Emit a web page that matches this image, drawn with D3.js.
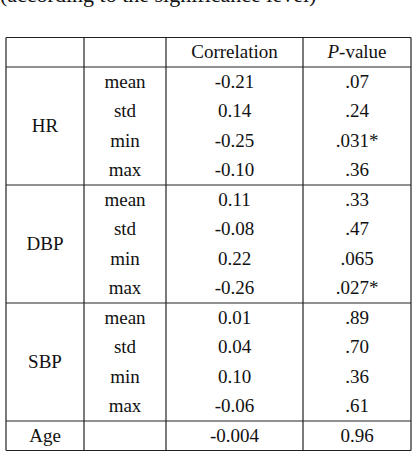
<!DOCTYPE html>
<html>
<head>
<meta charset="utf-8">
<script src="https://cdn.jsdelivr.net/npm/d3@7"></script>
<style>
  body { margin: 0; background: #fff; }
  text { font-family: "Liberation Serif", "DejaVu Serif", serif; font-size: 19px; fill: #111; }
</style>
</head>
<body>
<svg id="tbl" width="412" height="452"></svg>
<script>
var groups = ['HR', 'DBP', 'SBP'];
var stats = ['mean', 'std', 'min', 'max'];
var corr = [
  ['-0.21', '0.14', '-0.25', '-0.10'],
  ['0.11', '-0.08', '0.22', '-0.26'],
  ['0.01', '0.04', '0.10', '-0.06']
];
var pvals = [
  ['.07', '.24', '.031*', '.36'],
  ['.33', '.47', '.065', '.027*'],
  ['.89', '.70', '.36', '.61']
];
var ageRow = ['Age', '', '-0.004', '0.96'];

var svg = d3.select('#tbl');
var cols = [6, 84, 166, 303, 411];
var tableTop = 37.5, headH = 29.5, rowH = 29.5;
var line = function(x1, y1, x2, y2) {
  svg.append('line').attr('x1', x1).attr('y1', y1).attr('x2', x2).attr('y2', y2)
    .attr('stroke', '#222').attr('stroke-width', 1.2);
};
var mid = function(i) { return (cols[i] + cols[i + 1]) / 2; };

// caption line above the table, cut off by the top edge
svg.append('text').attr('x', 0).attr('y', 2).style('font-size', '22px')
  .text('(according to the significance level)');

var y = tableTop;
line(cols[0], y, cols[4], y);
svg.append('text').attr('x', mid(2)).attr('y', y + headH / 2 + 6).attr('text-anchor', 'middle').text('Correlation');
var ph = svg.append('text').attr('x', mid(3)).attr('y', y + headH / 2 + 6).attr('text-anchor', 'middle');
ph.append('tspan').style('font-style', 'italic').text('P');
ph.append('tspan').text('-value');
y += headH;
line(cols[0], y, cols[4], y);

groups.forEach(function(g, gi) {
  var y0 = y;
  svg.append('text').attr('x', mid(0)).attr('y', y0 + rowH * 2 + 6).attr('text-anchor', 'middle').text(g);
  stats.forEach(function(s, si) {
    var cy = y0 + rowH * si + rowH / 2 + 6;
    svg.append('text').attr('x', mid(1)).attr('y', cy).attr('text-anchor', 'middle').text(s);
    svg.append('text').attr('x', mid(2)).attr('y', cy).attr('text-anchor', 'middle').text(corr[gi][si]);
    svg.append('text').attr('x', mid(3)).attr('y', cy).attr('text-anchor', 'middle').text(pvals[gi][si]);
  });
  y += rowH * 4;
  line(cols[0], y, cols[4], y);
});

ageRow.forEach(function(t, i) {
  svg.append('text').attr('x', mid(i)).attr('y', y + rowH / 2 + 6).attr('text-anchor', 'middle').text(t);
});
y += rowH;
line(cols[0], y, cols[4], y);

cols.forEach(function(x) { line(x, tableTop, x, y); });
</script>
</body>
</html>
